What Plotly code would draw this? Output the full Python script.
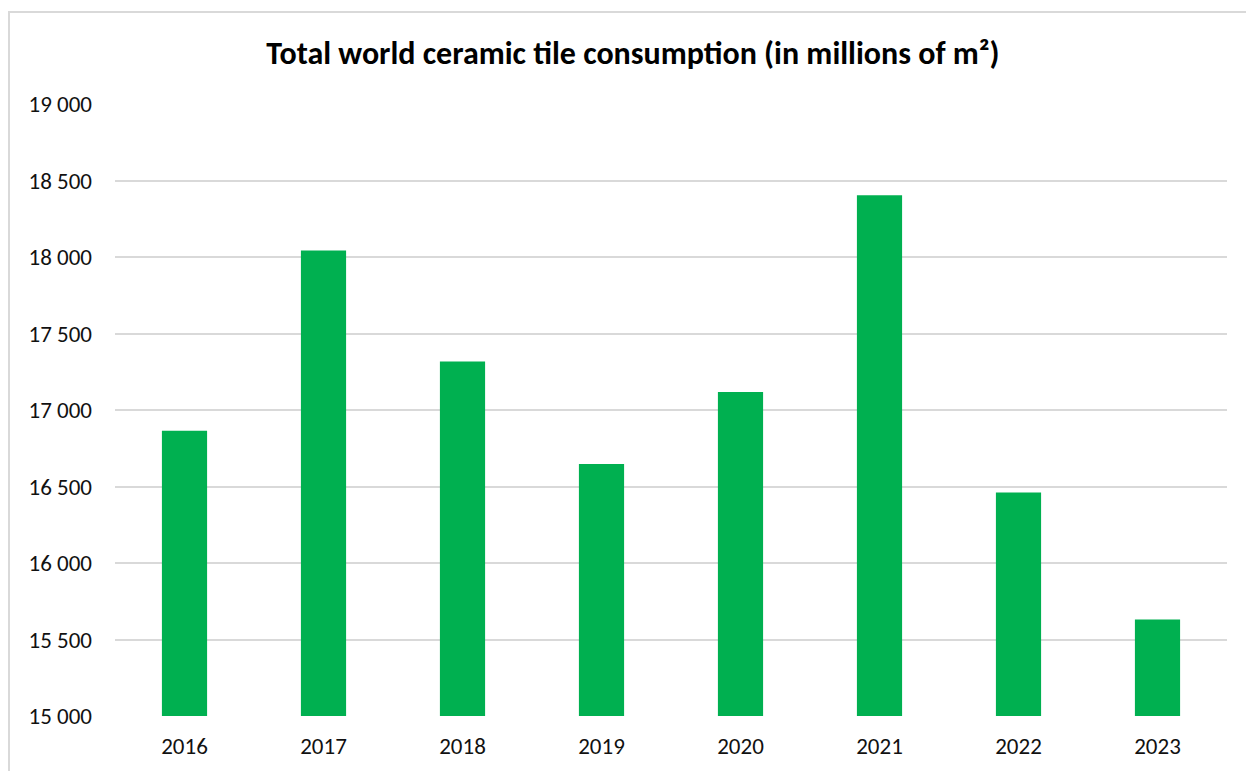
import plotly.graph_objects as go

# Total world ceramic tile consumption, millions of m²
years = ["2016", "2017", "2018", "2019", "2020", "2021", "2022", "2023"]
consumption = [16865, 18042, 17317, 16647, 17117, 18404, 16460, 15630]

y_ticks = [15000, 15500, 16000, 16500, 17000, 17500, 18000, 18500, 19000]

BAR_COLOR = "#00B050"
GRID_COLOR = "#d9d9d9"
TEXT_COLOR = "#111111"
FONT = "Carlito, Lato, 'Open Sans', sans-serif"

W, H = 1246, 771
ML, MR, MT, MB = 115, 19, 104, 55

fig = go.Figure(
    go.Bar(
        x=years,
        y=consumption,
        marker=dict(color=BAR_COLOR, line=dict(width=0)),
        width=0.325,
        hoverinfo="x+y",
    )
)

# chart-area frame (light gray, continues past the right/bottom page edges)
plot_w = W - ML - MR
plot_h = H - MT - MB
fx0 = (9 - ML) / plot_w
fy1 = (H - MB - 12) / plot_h

fig.update_layout(
    width=W,
    height=H,
    margin=dict(l=ML, r=MR, t=MT, b=MB),
    paper_bgcolor="white",
    plot_bgcolor="white",
    separators=". ",
    showlegend=False,
    font=dict(family=FONT, color=TEXT_COLOR, size=23),
    title=dict(
        text="<b>Total world ceramic tile consumption (in millions of m²)</b>",
        x=0.508,
        xanchor="center",
        y=1 - 53 / H,
        yanchor="middle",
        font=dict(family=FONT, size=32, color="#000000"),
    ),
    xaxis=dict(
        type="category",
        showgrid=False,
        showline=False,
        zeroline=False,
        ticks="",
        tickfont=dict(size=23, color=TEXT_COLOR),
        ticklabelstandoff=14,
    ),
    yaxis=dict(
        range=[15000, 19000],
        tickvals=y_ticks,
        tickformat=",d",
        showgrid=True,
        gridcolor=GRID_COLOR,
        gridwidth=2,
        zeroline=False,
        showline=False,
        ticks="",
        tickfont=dict(size=23, color=TEXT_COLOR),
        ticklabelstandoff=22,
    ),
    bargap=0.675,
    shapes=[
        dict(
            type="rect",
            xref="paper",
            yref="paper",
            x0=fx0,
            x1=1.2,
            y0=-0.3,
            y1=fy1,
            line=dict(color=GRID_COLOR, width=2),
            fillcolor="rgba(0,0,0,0)",
            layer="below",
        )
    ],
)

fig.write_html("out.html")
